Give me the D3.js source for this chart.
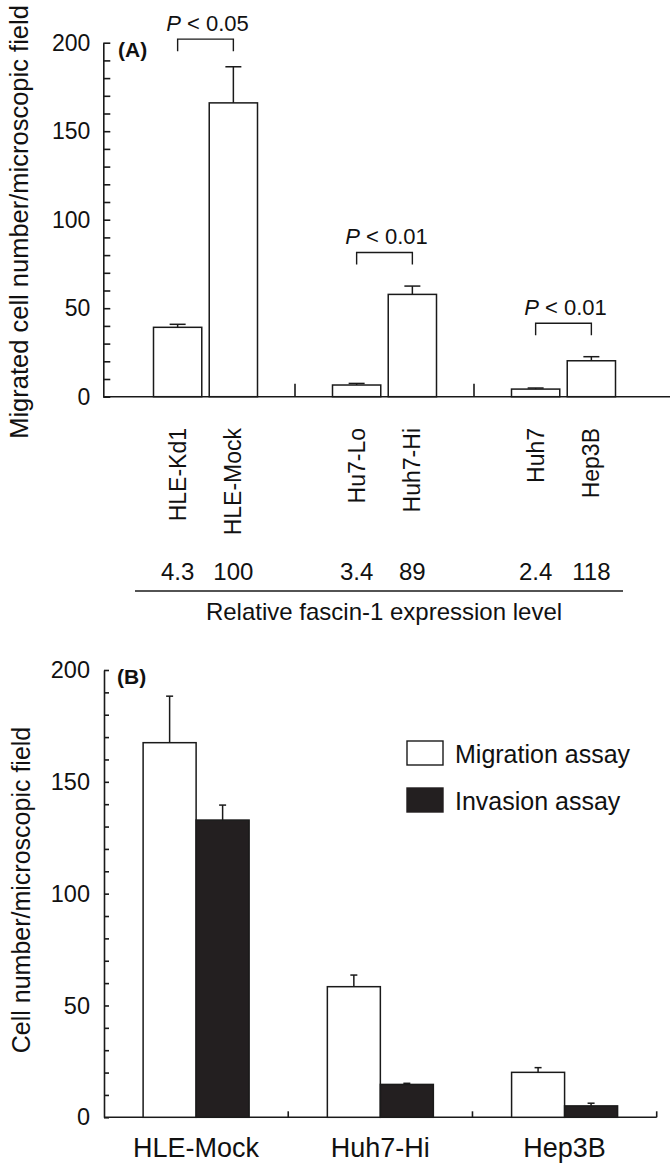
<!DOCTYPE html>
<html>
<head>
<meta charset="utf-8">
<script src="https://cdn.jsdelivr.net/npm/d3@7"></script>
<style>
	body { margin: 0; background: #fff; }
	text { font-family: "Liberation Sans", Arial, Helvetica, sans-serif; fill: #111; }
</style>
</head>
<body>
<div id="chart"></div>
<script>
// panel A
var groupsA = [0, 1, 2];
var lowNamesA = ["HLE-Kd1", "Hu7-Lo", "Huh7"];
var highNamesA = ["HLE-Mock", "Huh7-Hi", "Hep3B"];
var lowMeanA = [39.2, 6.6, 4.3];
var lowErrA = [1.7, 0.9, 0.6];
var highMeanA = [166, 57.8, 20.3];
var highErrA = [20.4, 4.7, 2.3];
var lowExprA = ["4.3", "3.4", "2.4"];
var highExprA = ["100", "89", "118"];
var pValuesA = ["0.05", "0.01", "0.01"];
var bracketLevelA = [202, 81.5, 41.5];

// panel B
var groupsB = ["HLE-Mock", "Huh7-Hi", "Hep3B"];
var seriesB = ["Migration assay", "Invasion assay"];
var migrationB = [167.5, 58.4, 20.1];
var migrationErrB = [20.8, 5.2, 2.1];
var invasionB = [132.9, 14.7, 5.1];
var invasionErrB = [6.7, 0.5, 1.2];

var yTicks = d3.range(0, 201, 10);


(function() {
	var width = 670;
	var height = 1163;
	var ink = "#1a1a1a";
	var dark = "#231f20";

	var svg = d3.select("#chart")
				.append("svg")
				.attr("width", width)
				.attr("height", height)

	function styleAxis(g, size) {
		g.attr("font-size", size)
		 .attr("font-family", null)
		g.selectAll("path, line")
		 .attr("stroke", ink)
		 .attr("stroke-width", 1.6)
	}

	function errorBar(g, x, yTop, yBase, cap) {
		g.append("line")
		 .attr("x1", x).attr("x2", x)
		 .attr("y1", yBase).attr("y2", yTop)
		 .attr("stroke", ink).attr("stroke-width", 1.5)
		g.append("line")
		 .attr("x1", x - cap / 2).attr("x2", x + cap / 2)
		 .attr("y1", yTop).attr("y2", yTop)
		 .attr("stroke", ink).attr("stroke-width", 1.5)
	}

	/* ---------- (A) ---------- */
	var barsA = [];
	groupsA.forEach(function(g, i) {
		barsA.push({ group: g, key: "low", name: lowNamesA[i], value: lowMeanA[i], err: lowErrA[i], expr: lowExprA[i] });
		barsA.push({ group: g, key: "high", name: highNamesA[i], value: highMeanA[i], err: highErrA[i], expr: highExprA[i] });
	});

	var leftA = 103.3;

	var yA = d3.scaleLinear()
			   .domain([0, 200])
			   .range([396.7, 42.7])

	var x0A = d3.scaleBand()
				.domain(groupsA)
				.range([116, 653])

	var x1A = d3.scaleBand()
				.domain(["low", "high"])
				.range([0, 104])
				.paddingInner(0.134)

	var offA = (x0A.bandwidth() - 104) / 2;
	function centerA(d) { return x0A(d.group) + offA + x1A(d.key) + x1A.bandwidth() / 2; }

	var panelA = svg.append("g")

	panelA.append("g")
		  .attr("transform", "translate(" + leftA + ",0)")
		  .call(d3.axisLeft(yA)
		  		  .tickValues(yTicks)
		  		  .tickSize(-7)
		  		  .tickSizeOuter(0)
		  		  .tickPadding(13)
		  		  .tickFormat(function(d) { return d % 50 === 0 ? d : ""; }))
		  .call(styleAxis, 23)

	panelA.append("line")
		  .attr("x1", leftA).attr("x2", width)
		  .attr("y1", yA(0)).attr("y2", yA(0))
		  .attr("stroke", ink).attr("stroke-width", 1.6)

	panelA.selectAll(".sep")
		  .data(groupsA.slice(1))
		  .enter()
		  .append("line")
		  .attr("x1", function(d) { return x0A(d); })
		  .attr("x2", function(d) { return x0A(d); })
		  .attr("y1", yA(0))
		  .attr("y2", yA(0) - 13)
		  .attr("stroke", ink).attr("stroke-width", 1.6)

	panelA.selectAll("rect.bar")
		  .data(barsA)
		  .enter()
		  .append("rect")
		  .attr("class", "bar")
		  .attr("x", function(d) { return x0A(d.group) + offA + x1A(d.key); })
		  .attr("y", function(d) { return yA(d.value); })
		  .attr("width", x1A.bandwidth())
		  .attr("height", function(d) { return yA(0) - yA(d.value); })
		  .attr("fill", "#fff")
		  .attr("stroke", ink)
		  .attr("stroke-width", 1.5)

	barsA.forEach(function(d) {
		errorBar(panelA, centerA(d), yA(d.value + d.err), yA(d.value), 16);
	});

	// significance brackets
	groupsA.forEach(function(g, i) {
		var xl = centerA(barsA[i * 2]);
		var xr = centerA(barsA[i * 2 + 1]);
		var yt = yA(bracketLevelA[i]);
		panelA.append("path")
			  .attr("d", "M" + xl + "," + (yt + 12) + "V" + yt + "H" + xr + "V" + (yt + 12))
			  .attr("fill", "none")
			  .attr("stroke", ink)
			  .attr("stroke-width", 1.4)
		var t = panelA.append("text")
					  .attr("x", (xl + xr) / 2 + 2)
					  .attr("y", yt - 8)
					  .attr("text-anchor", "middle")
					  .attr("font-size", 22)
		t.append("tspan").attr("font-style", "italic").text("P");
		t.append("tspan").text(" < " + pValuesA[i]);
	});

	panelA.selectAll("text.name")
		  .data(barsA)
		  .enter()
		  .append("text")
		  .attr("class", "name")
		  .attr("transform", function(d) { return "translate(" + centerA(d) + ",428)rotate(-90)"; })
		  .attr("dy", "0.35em")
		  .attr("text-anchor", "end")
		  .attr("font-size", 23)
		  .text(function(d) { return d.name; })

	panelA.selectAll("text.expr")
		  .data(barsA)
		  .enter()
		  .append("text")
		  .attr("class", "expr")
		  .attr("x", centerA)
		  .attr("y", 580)
		  .attr("text-anchor", "middle")
		  .attr("font-size", 24)
		  .text(function(d) { return d.expr; })

	panelA.append("line")
		  .attr("x1", 135).attr("x2", 623)
		  .attr("y1", 591).attr("y2", 591)
		  .attr("stroke", ink).attr("stroke-width", 1.6)

	panelA.append("text")
		  .attr("x", 384)
		  .attr("y", 620)
		  .attr("text-anchor", "middle")
		  .attr("font-size", 24)
		  .text("Relative fascin-1 expression level")

	panelA.append("text")
		  .attr("transform", "translate(28,222)rotate(-90)")
		  .attr("text-anchor", "middle")
		  .attr("font-size", 25.5)
		  .text("Migrated cell number/microscopic field")

	panelA.append("text")
		  .attr("x", 118)
		  .attr("y", 57)
		  .attr("font-size", 21)
		  .attr("font-weight", "bold")
		  .text("(A)")

	/* ---------- (B) ---------- */
	var barsB = [];
	groupsB.forEach(function(g, i) {
		barsB.push({ group: g, series: seriesB[0], value: migrationB[i], err: migrationErrB[i] });
		barsB.push({ group: g, series: seriesB[1], value: invasionB[i], err: invasionErrB[i] });
	});

	var leftB = 104;
	var rightB = 656.7;

	var yB = d3.scaleLinear()
			   .domain([0, 200])
			   .range([1117.3, 670])

	var x0B = d3.scaleBand()
				.domain(groupsB)
				.range([leftB, rightB])

	var x1B = d3.scaleBand()
				.domain(seriesB)
				.range([0, 106])

	var offB = (x0B.bandwidth() - 106) / 2;
	var color = d3.scaleOrdinal()
				  .domain(seriesB)
				  .range(["#fff", dark])

	var panelB = svg.append("g")

	panelB.append("g")
		  .attr("transform", "translate(" + leftB + ",0)")
		  .call(d3.axisLeft(yB)
		  		  .tickValues(yTicks)
		  		  .tickSize(-5)
		  		  .tickSizeOuter(0)
		  		  .tickPadding(14)
		  		  .tickFormat(function(d) { return d % 50 === 0 ? d : ""; }))
		  .call(styleAxis, 23.5)

	panelB.append("line")
		  .attr("x1", leftB).attr("x2", rightB)
		  .attr("y1", yB(0)).attr("y2", yB(0))
		  .attr("stroke", ink).attr("stroke-width", 1.6)

	panelB.selectAll(".sep")
		  .data(groupsB.slice(1).concat(["end"]))
		  .enter()
		  .append("line")
		  .attr("x1", function(d) { return d === "end" ? rightB : x0B(d); })
		  .attr("x2", function(d) { return d === "end" ? rightB : x0B(d); })
		  .attr("y1", yB(0))
		  .attr("y2", yB(0) - 6)
		  .attr("stroke", ink).attr("stroke-width", 1.6)

	panelB.selectAll("rect.bar")
		  .data(barsB)
		  .enter()
		  .append("rect")
		  .attr("class", "bar")
		  .attr("x", function(d) { return x0B(d.group) + offB + x1B(d.series); })
		  .attr("y", function(d) { return yB(d.value); })
		  .attr("width", x1B.bandwidth())
		  .attr("height", function(d) { return yB(0) - yB(d.value); })
		  .attr("fill", function(d) { return color(d.series); })
		  .attr("stroke", ink)
		  .attr("stroke-width", 1.5)

	barsB.forEach(function(d) {
		var cx = x0B(d.group) + offB + x1B(d.series) + x1B.bandwidth() / 2;
		errorBar(panelB, cx, yB(d.value + d.err), yB(d.value), 7);
	});

	panelB.selectAll("text.group")
		  .data(groupsB)
		  .enter()
		  .append("text")
		  .attr("class", "group")
		  .attr("x", function(d) { return x0B(d) + x0B.bandwidth() / 2; })
		  .attr("y", 1156.5)
		  .attr("text-anchor", "middle")
		  .attr("font-size", 27)
		  .text(function(d) { return d; })

	panelB.append("text")
		  .attr("transform", "translate(30,890)rotate(-90)")
		  .attr("text-anchor", "middle")
		  .attr("font-size", 25)
		  .text("Cell number/microscopic field")

	panelB.append("text")
		  .attr("x", 117)
		  .attr("y", 684)
		  .attr("font-size", 21)
		  .attr("font-weight", "bold")
		  .text("(B)")

	var legend = panelB.selectAll("g.legend")
					   .data(seriesB)
					   .enter()
					   .append("g")
					   .attr("class", "legend")
					   .attr("transform", function(d, i) { return "translate(407," + (741 + i * 47) + ")"; })

	legend.append("rect")
		  .attr("width", 36)
		  .attr("height", 24)
		  .attr("fill", function(d) { return color(d); })
		  .attr("stroke", function(d, i) { return i === 0 ? ink : dark; })
		  .attr("stroke-width", 1.4)

	legend.append("text")
		  .attr("x", 48)
		  .attr("y", 22)
		  .attr("font-size", 25)
		  .text(function(d) { return d; })

}())
</script>
</body>
</html>
